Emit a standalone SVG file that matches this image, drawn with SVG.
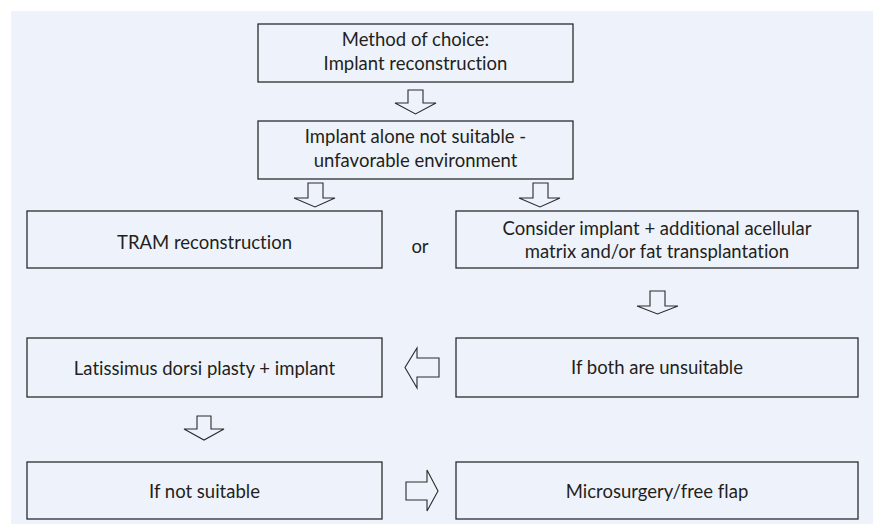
<svg xmlns="http://www.w3.org/2000/svg" width="873" height="524" viewBox="0 0 873 524">
<style>
.box{fill:#eef3fb;stroke:#2b2b2b;stroke-width:1.3}
.arr{fill:#eef3fb;stroke:#2b2b2b;stroke-width:1.1;stroke-linejoin:miter}
text{font-family:Lato,"Open Sans","Liberation Sans",sans-serif;font-size:18.5px;fill:#231f20;text-anchor:middle;font-variant-ligatures:none;font-feature-settings:"liga" 0,"clig" 0,"dlig" 0}
</style>
<rect x="0" y="0" width="873" height="524" fill="#ffffff"/>
<rect x="11" y="11" width="862" height="513" fill="#eef3fb"/>
<g id="connectors">
<path class="arr" d="M408,90 H423 V103 H436 L415.5,114 L395,103 H408 Z"/>
<path class="arr" d="M308,183 H323 V198 H335 L315,207 L294,198 H308 Z"/>
<path class="arr" d="M533,183 H548 V198 H560 L540,207 L519,198 H533 Z"/>
<path class="arr" d="M650,291 H665 V306 H678 L657.5,314 L637,306 H650 Z"/>
<path class="arr" d="M197,416 H211 V429 H224 L204,440 L184,429 H197 Z"/>
<path class="arr" d="M439,358 V377 H417 V388 L405,367.5 L417,348 V358 Z"/>
<path class="arr" d="M406,482 V500 H427 V511 L438,491 L427,470 V482 Z"/>
</g>
<g id="n1"><rect class="box" x="258" y="24" width="315" height="58"/><text x="415.5" y="46">Method of choice:</text><text x="415.5" y="70">Implant reconstruction</text></g>
<g id="n2"><rect class="box" x="258" y="121" width="315" height="58"/><text x="415.5" y="143">Implant alone not suitable -</text><text x="415.5" y="167">unfavorable environment</text></g>
<g id="n3"><rect class="box" x="27" y="211" width="355" height="57"/><text x="204.5" y="249">TRAM reconstruction</text></g>
<g id="or"><text x="420" y="253">or</text></g>
<g id="n4"><rect class="box" x="456" y="211" width="402" height="57"/><text x="657" y="235">Consider implant + additional acellular</text><text x="657" y="258">matrix and/or fat transplantation</text></g>
<g id="n5"><rect class="box" x="27" y="338" width="355" height="59"/><text x="204.5" y="375">Latissimus dorsi plasty + implant</text></g>
<g id="n6"><rect class="box" x="456" y="338" width="402" height="59"/><text x="657" y="374">If both are unsuitable</text></g>
<g id="n7"><rect class="box" x="27" y="462" width="355" height="57"/><text x="204.5" y="498">If not suitable</text></g>
<g id="n8"><rect class="box" x="456" y="462" width="402" height="57"/><text x="657" y="498">Microsurgery/free flap</text></g>
</svg>
